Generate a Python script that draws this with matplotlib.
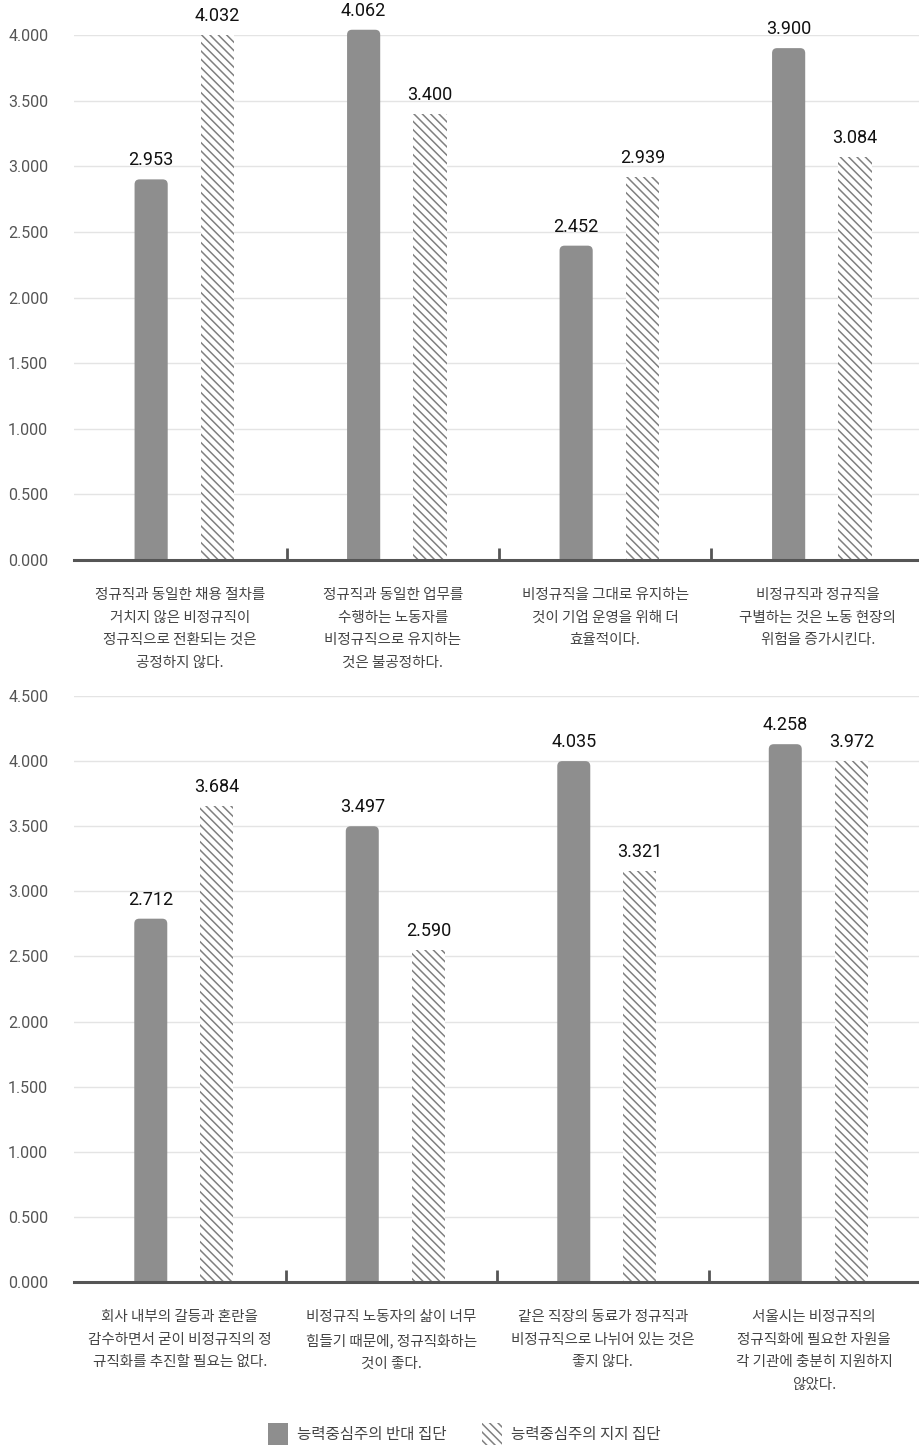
import matplotlib
matplotlib.use('Agg')
import matplotlib.pyplot as plt
from matplotlib.patches import Patch, FancyBboxPatch, Rectangle
import numpy as np

plt.rcParams['font.family'] = ['Noto Sans CJK KR', 'DejaVu Sans']
plt.rcParams['hatch.linewidth'] = 1.1

# ---------------- data ----------------
categories_top = [
    "정규직과 동일한 채용 절차를\n거치지 않은 비정규직이\n정규직으로 전환되는 것은\n공정하지 않다.",
    "정규직과 동일한 업무를\n수행하는 노동자를\n비정규직으로 유지하는\n것은 불공정하다.",
    "비정규직을 그대로 유지하는\n것이 기업 운영을 위해 더\n효율적이다.",
    "비정규직과 정규직을\n구별하는 것은 노동 현장의\n위험을 증가시킨다.",
]
categories_bottom = [
    "회사 내부의 갈등과 혼란을\n감수하면서 굳이 비정규직의 정\n규직화를 추진할 필요는 없다.",
    "비정규직 노동자의 삶이 너무\n힘들기 때문에, 정규직화하는\n것이 좋다.",
    "같은 직장의 동료가 정규직과\n비정규직으로 나뉘어 있는 것은\n좋지 않다.",
    "서울시는 비정규직의\n정규직화에 필요한 자원을\n각 기관에 충분히 지원하지\n않았다.",
]
series_names = ["능력중심주의 반대 집단", "능력중심주의 지지 집단"]

# printed values
oppose_top_values = [2.953, 4.062, 2.452, 3.900]
support_top_values = [4.032, 3.400, 2.939, 3.084]
oppose_bottom_values = [2.712, 3.497, 4.035, 4.258]
support_bottom_values = [3.684, 2.590, 3.321, 3.972]

# bar heights as drawn in the picture
oppose_top_heights = [2.90, 4.04, 2.395, 3.90]
support_top_heights = [4.00, 3.40, 2.92, 3.07]
oppose_bottom_heights = [2.79, 3.50, 4.00, 4.13]
support_bottom_heights = [3.655, 2.55, 3.155, 4.00]

yticks_top = [0.0, 0.5, 1.0, 1.5, 2.0, 2.5, 3.0, 3.5, 4.0]
yticks_bottom = [0.0, 0.5, 1.0, 1.5, 2.0, 2.5, 3.0, 3.5, 4.0, 4.5]

# ---------------- style ----------------
SOLID = '#8e8e8e'
HATCH_COL = '#808080'
HATCH = '\\' * 4
NUM_FONT = ['Roboto', 'DejaVu Sans']

W, H = 919, 1445
fig = plt.figure(figsize=(W / 100, H / 100), dpi=100)
fig.patch.set_facecolor('white')
ax1 = fig.add_axes([74 / W, (H - 560) / H, 850 / W, 525 / H])
ax2 = fig.add_axes([74 / W, (H - 1282) / H, 846 / W, 586 / H])


def round_bars(ax, bars, ax_w_px, ax_h_px, ymax, radius_px=5):
    # replace square bars with top-rounded ones (bottom hidden below baseline)
    ncat = 4
    xpp = ncat / ax_w_px          # data x units per pixel
    ypp = ymax / ax_h_px          # data y units per pixel
    r = radius_px * xpp
    aspect = ypp / xpp
    pad = radius_px * 2 * ypp
    clip = Rectangle((-1, 0), ncat + 2, ymax * 3, transform=ax.transData,
                     visible=False)
    ax.add_patch(clip)
    for b in bars:
        b.set_visible(False)
        p = FancyBboxPatch((b.get_x(), -pad), b.get_width(), b.get_height() + pad,
                           boxstyle=f'round,pad=0,rounding_size={r}',
                           mutation_aspect=aspect, facecolor=b.get_facecolor(),
                           edgecolor=b.get_facecolor(), linewidth=0,
                           zorder=3, clip_on=True)
        ax.add_patch(p)
        p.set_clip_path(clip)


def draw(ax, cats, opp_h, sup_h, opp_v, sup_v, yticks, ax_w_px, ax_h_px):
    x = np.arange(len(cats))
    b1 = ax.bar(x - 0.137, opp_h, width=0.156, color=SOLID, linewidth=0,
                zorder=3, clip_on=False)
    b2 = ax.bar(x + 0.175, sup_h, width=0.156, color='white',
                edgecolor=HATCH_COL, hatch=HATCH, linewidth=0,
                zorder=3, clip_on=False)
    round_bars(ax, b1, ax_w_px, ax_h_px, yticks[-1])
    for bars, vals in ((b1, opp_v), (b2, sup_v)):
        for r, v in zip(bars, vals):
            ax.annotate(f'{v:.3f}', (r.get_x() + r.get_width() / 2, r.get_height()),
                        xytext=(0, 13.7), textcoords='offset points',
                        ha='center', va='center', fontsize=13, color='#111111',
                        family=NUM_FONT, annotation_clip=False)
    ax.set_xlim(-0.5, len(cats) - 0.5)
    ax.set_ylim(0, yticks[-1])
    ax.set_yticks(yticks)
    ax.set_yticklabels([f'{t:.3f}' for t in yticks], fontsize=11.5,
                       color='#555555', family=NUM_FONT)
    ax.tick_params(axis='y', length=0, pad=18.5)
    ax.grid(axis='y', color='#e4e4e4', lw=1)
    ax.set_axisbelow(True)
    for s in ['left', 'right', 'top']:
        ax.spines[s].set_visible(False)
    ax.spines['bottom'].set_color('#555555')
    ax.spines['bottom'].set_linewidth(2.2)
    ax.spines['bottom'].set_zorder(5)
    ax.set_xticks(x[:-1] + 0.5)
    ax.set_xticklabels([])
    ax.tick_params(axis='x', which='major', direction='in', length=9,
                   width=2, color='#555555')
    ax.set_xticks(x, minor=True)
    ax.set_xticklabels(cats, minor=True, fontsize=10.5, color='#444444',
                       linespacing=1.76, va='top')
    ax.tick_params(axis='x', which='minor', length=0, pad=20.5)


draw(ax1, categories_top, oppose_top_heights, support_top_heights,
     oppose_top_values, support_top_values, yticks_top, 850, 525)
draw(ax2, categories_bottom, oppose_bottom_heights, support_bottom_heights,
     oppose_bottom_values, support_bottom_values, yticks_bottom, 846, 586)

handles = [
    Patch(facecolor=SOLID, edgecolor=SOLID, linewidth=0, label=series_names[0]),
    Patch(facecolor='white', edgecolor=HATCH_COL, hatch=HATCH, linewidth=0,
          label=series_names[1]),
]
fig.legend(handles=handles, loc='center', bbox_to_anchor=(464 / W, 1 - 1434 / H),
           ncol=2, frameon=False, fontsize=11.2, labelcolor='#444444',
           handlelength=1.3, handleheight=1.8, handletextpad=0.55,
           columnspacing=2.3)

fig.savefig('out.png', dpi=100, facecolor='white')
